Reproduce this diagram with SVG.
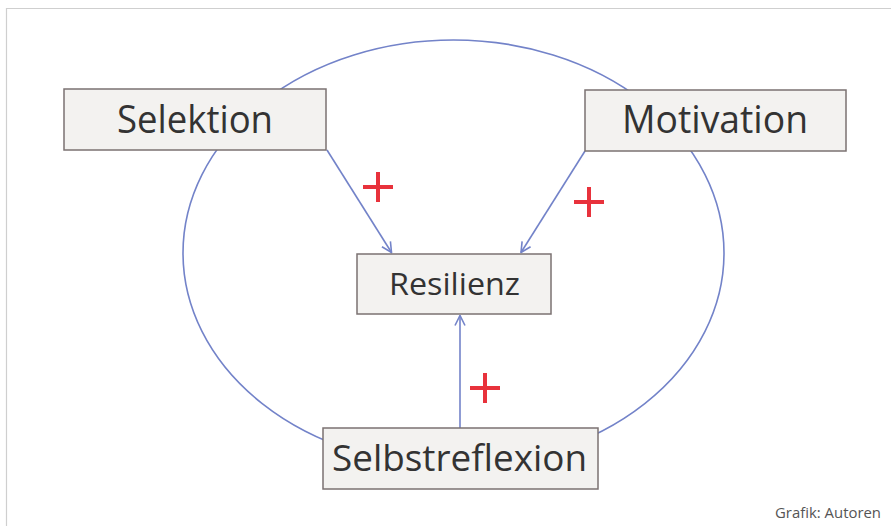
<svg xmlns="http://www.w3.org/2000/svg" width="891" height="526" viewBox="0 0 891 526">
<style>
.box{fill:#f3f2f0;stroke:#7b7272;stroke-width:1.5}
.lbl{font-family:"Open Sans","Noto Sans","Liberation Sans",sans-serif;fill:#333;text-anchor:middle}
.con{fill:none;stroke:#7383c9;stroke-width:1.6}
.plus{stroke:#e8323c;stroke-width:4;stroke-linecap:butt}
</style>
<defs>
<marker id="arr" viewBox="0 0 12 12" refX="11" refY="6" markerWidth="12" markerHeight="12" markerUnits="userSpaceOnUse" orient="auto">
<path d="M1,1 L11,6 L1,11" fill="none" stroke="#7383c9" stroke-width="1.6"/>
</marker>
</defs>
<rect x="0" y="0" width="891" height="526" fill="#fff"/>
<path d="M6.5,526 V8.5 H891" fill="none" stroke="#cfcfcf" stroke-width="1.2"/>
<g id="connectors">
<ellipse class="con" cx="453.5" cy="253" rx="270.5" ry="213"/>
<line class="con" x1="327" y1="150" x2="391.5" y2="252.5" marker-end="url(#arr)"/>
<line class="con" x1="585" y1="151" x2="521" y2="252.5" marker-end="url(#arr)"/>
<line class="con" x1="460" y1="428" x2="460" y2="315.5" marker-end="url(#arr)"/>
</g>
<g id="plus-marks">
<path class="plus" d="M363,187 H393 M378,172 V202"/>
<path class="plus" d="M574,202 H604 M589,187 V217"/>
<path class="plus" d="M470,388 H500 M485,373 V403"/>
</g>
<g id="selektion">
<rect class="box" x="64" y="89" width="262" height="61"/>
<text class="lbl" x="195" y="133" font-size="39" textLength="156" lengthAdjust="spacingAndGlyphs">Selektion</text>
</g>
<g id="motivation">
<rect class="box" x="585" y="90" width="261" height="61"/>
<text class="lbl" x="715" y="133" font-size="38" textLength="186" lengthAdjust="spacingAndGlyphs">Motivation</text>
</g>
<g id="resilienz">
<rect class="box" x="357" y="254" width="194" height="60"/>
<text class="lbl" x="454.5" y="295" font-size="31" textLength="131" lengthAdjust="spacingAndGlyphs">Resilienz</text>
</g>
<g id="selbstreflexion">
<rect class="box" x="323" y="428" width="275" height="61"/>
<text class="lbl" x="459.5" y="471" font-size="37" textLength="255" lengthAdjust="spacingAndGlyphs">Selbstreflexion</text>
</g>
<text x="881" y="518" font-family="'Open Sans','Noto Sans','Liberation Sans',sans-serif" font-size="15" fill="#555" text-anchor="end" textLength="106" lengthAdjust="spacingAndGlyphs">Grafik: Autoren</text>
</svg>
